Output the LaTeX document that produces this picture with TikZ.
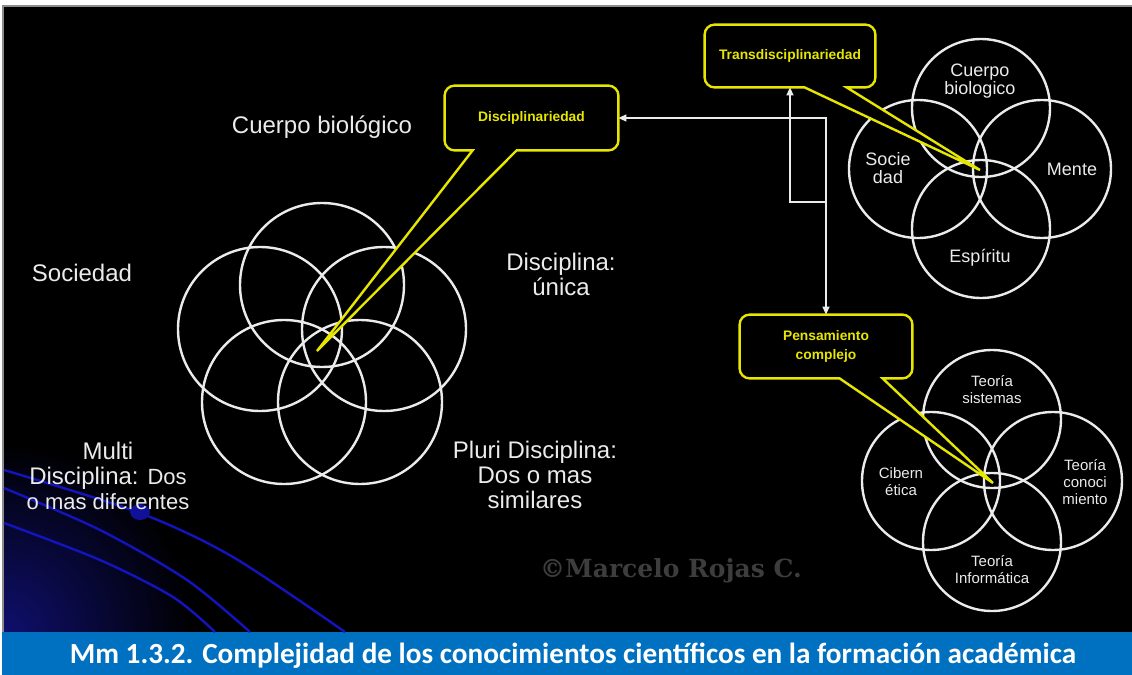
\documentclass[tikz,border=0pt]{standalone}
\usepackage{fontspec}
\setmainfont{Liberation Sans}
\newfontfamily\capfont{Carlito}
\newfontfamily\markfont{DejaVu Serif}
\usetikzlibrary{arrows.meta,calc}
\definecolor{ylw}{RGB}{230,230,0}
\definecolor{capblue}{RGB}{0,112,192}
\definecolor{arcblue}{RGB}{20,20,190}
\definecolor{ringgray}{RGB}{235,235,235}
\tikzset{
  ring/.style={circle,draw=ringgray,line width=1.2pt,inner sep=0pt},
  big/.style={text=ringgray,align=center,font=\fontsize{12}{12.5}\selectfont},
  mid/.style={text=ringgray,align=center,font=\fontsize{9}{8.8}\selectfont},
  small/.style={text=ringgray,align=center,font=\fontsize{7.5}{8.5}\selectfont},
  boxtext/.style={text=ylw,align=center,inner sep=0pt,font=\bfseries\fontsize{6.9}{9.5}\selectfont},
  bubble/.style={draw=ylw,line width=1.2pt,fill=black},
  link/.style={draw=ringgray,line width=0.8pt},
  arc/.style={draw=arcblue,line width=1.2pt}
}
\newcommand{\speech}[4]{\draw[bubble] #4 -- ($(#1.south west)+(#3,0)$) [rounded corners=5pt] -- (#1.south east) -- (#1.north east) -- (#1.north west) -- (#1.south west) [sharp corners] -- ($(#1.south west)+(#2,0)$) -- cycle;}
\begin{document}
\begin{tikzpicture}[x=0.5pt,y=-0.5pt]
\useasboundingbox (0,0) rectangle (1132,675);
\fill[white] (0,0) rectangle (1132,675);
\fill[black!45] (2,5) rectangle (1132,632);
\fill[black] (4,7) rectangle (1132,632);
\begin{scope}
  \clip (4,7) rectangle (1132,632);
  \shade[inner color={rgb,255:red,15;green,15;blue,110},outer color=black] (4,632) circle (190);
\end{scope}
\fill[capblue] (2,632) rectangle (1132,675);

\draw[arc] plot[smooth] coordinates {(4,470) (140,513) (233,557) (345,632)};
\draw[arc] plot[smooth] coordinates {(4,488) (100,530) (187,580) (250,632)};
\draw[arc] plot[smooth] coordinates {(4,523) (100,560) (173,597) (215,632)};
\fill[arcblue!80!black] (140,512) ellipse (10 and 8);

\node[ring,minimum size=82pt] (l1) at (322,285) {};
\node[ring,minimum size=82pt] (l2) at (260,329) {};
\node[ring,minimum size=82pt] (l3) at (384,329) {};
\node[ring,minimum size=82pt] (l4) at (284,402) {};
\node[ring,minimum size=82pt] (l5) at (360,402) {};

\node[ring,minimum size=69pt] (t1) at (981,108) {};
\node[ring,minimum size=69pt] (t2) at (918,169) {};
\node[ring,minimum size=69pt] (t3) at (1042,169) {};
\node[ring,minimum size=69pt] (t4) at (981,229) {};

\node[ring,minimum size=69pt] (p1) at (992,419) {};
\node[ring,minimum size=69pt] (p2) at (931,481) {};
\node[ring,minimum size=69pt] (p3) at (1053,481) {};
\node[ring,minimum size=69pt] (p4) at (992,542) {};

\node[big] (cb) at (322,127) {Cuerpo biológico};
\node[big] (soc) at (82,273) {Sociedad};
\node[big] (multi) at (108,476) {Multi\\Disciplina: {\fontsize{11}{12}\selectfont Dos}\\{\fontsize{11}{12}\selectfont o mas diferentes}};
\node[big] (uni) at (561,274) {Disciplina:\\única};
\node[big] (pluri) at (535,475) {Pluri Disciplina:\\Dos o mas\\similares};

\node[mid] at (980,81) {Cuerpo\\biologico};
\node[mid] at (888,168) {Socie\\dad};
\node[mid] at (1072,169) {Mente};
\node[mid] at (980,258) {Espíritu};

\node[small] at (992,390) {Teoría\\sistemas};
\node[small] at (901,482) {Cibern\\ética};
\node[small] at (1085,482) {Teoría\\conoci\\miento};
\node[small] at (992,570) {Teoría\\Informática};

\coordinate (dtip) at (317,351);
\coordinate (ttip) at (980,170);
\coordinate (ptip) at (993,483);

\node[boxtext,minimum width=86.5pt,minimum height=32pt] (disc) at (531.5,118) {Disciplinariedad};
\node[boxtext,minimum width=85pt,minimum height=31pt] (trans) at (790,56) {Transdisciplinariedad};
\node[boxtext,minimum width=86pt,minimum height=31.5pt] (pens) at (826,346.5) {Pensamiento\\complejo};

\speech{disc}{28}{72}{(dtip)}
\speech{trans}{100}{142}{(ttip)}
\speech{pens}{100}{143}{(ptip)}
\node[boxtext] at (disc) {Disciplinariedad};
\node[boxtext] at (trans) {Transdisciplinariedad};
\node[boxtext] at (pens) {Pensamiento\\complejo};

\coordinate (j) at (826,202);
\draw[link,{Triangle[length=4pt,width=3.5pt]}-{Triangle[length=4pt,width=3.5pt]}] (disc.east) -| (pens.north);
\draw[link,-{Triangle[length=4pt,width=3.5pt]}] (j) -| (trans.south);

\node[text=black!76,font=\markfont\bfseries\fontsize{12.5}{14}\selectfont] (mark) at (671,571) {©Marcelo Rojas C.};
\node[text=white,font=\capfont\bfseries\fontsize{14.6}{16}\selectfont] (cap) at (573,656) {Mm 1.3.2. Complejidad de los conocimientos científicos en la formación académica};
\end{tikzpicture}
\end{document}
